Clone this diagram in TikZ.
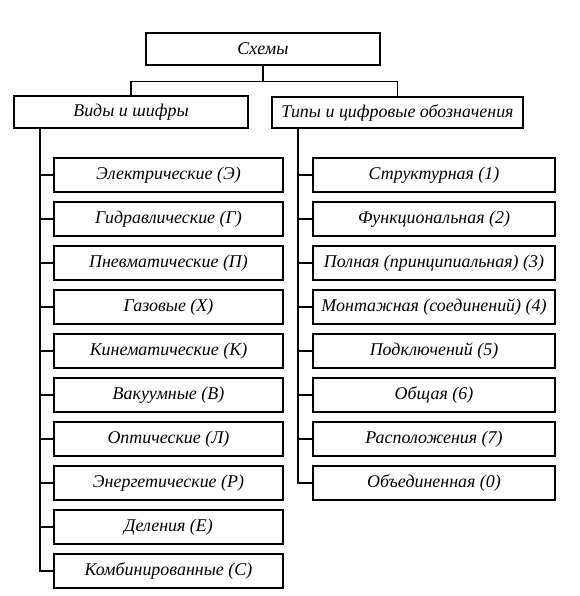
\documentclass[tikz,border=0pt]{standalone}
\usepackage{fontspec}
\setmainfont{Liberation Serif}
\begin{document}
\begin{tikzpicture}[x=1bp,y=-1bp,
  box/.style={draw, line width=1.2bp, inner sep=0pt, font=\fontsize{18}{20}\selectfont\itshape},
  lbox/.style={box, minimum width=229bp, minimum height=34bp},
  rbox/.style={box, minimum width=242bp, minimum height=34bp},
  link/.style={line width=1.1bp}]
\useasboundingbox (0,0) rectangle (580,596);
\node[box, minimum width=234bp, minimum height=32bp] (top) at (263,49) {Схемы};
\node[box, minimum width=234bp, minimum height=32bp] (vid) at (131,112) {Виды и шифры};
\node[box, minimum width=251bp, minimum height=31bp] (tip) at (397.5,112.5) {Типы и цифровые обозначения};
\foreach \t [count=\i] in {Электрические (Э),Гидравлические (Г),Пневматические (П),Газовые (Х),Кинематические (К),Вакуумные (В),Оптические (Л),Энергетические (Р),Деления (Е),Комбинированные (С)}
  \node[lbox] (L\i) at (168.5,{175+44*(\i-1)}) {\t};
\foreach \t [count=\i] in {Структурная (1),Функциональная (2),Полная (принципиальная) (3),Монтажная (соединений) (4),Подключений (5),Общая (6),Расположения (7),Объединенная (0)}
  \node[rbox] (R\i) at (434,{175+44*(\i-1)}) {\t};
\coordinate (lt) at ([xshift=-91bp]vid.south);
\coordinate (rt) at ([xshift=-99.5bp]tip.south);
\draw[link] (top.south) -- ++(0,16) -| (vid.north);
\draw[link] (top.south) -- ++(0,16) -| (tip.north);
\foreach \i in {1,...,10} \draw[link] (lt) |- (L\i.west);
\foreach \i in {1,...,8} \draw[link] (rt) |- (R\i.west);
\end{tikzpicture}
\end{document}
